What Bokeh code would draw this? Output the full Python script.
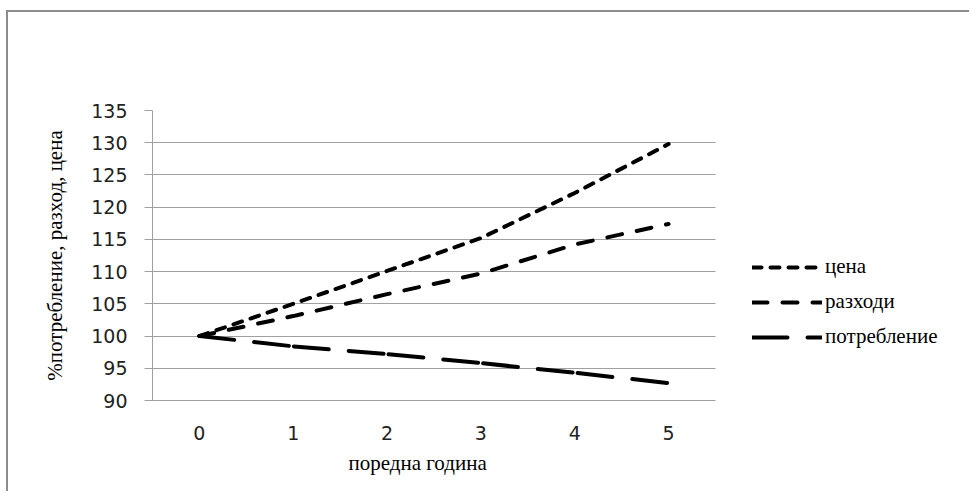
from bokeh.plotting import figure
from bokeh.models import Legend, LegendItem, FixedTicker, Range1d, Title
from bokeh.embed import file_html
from bokeh.resources import INLINE

years = [0, 1, 2, 3, 4, 5]
price = [100, 105.0, 110.1, 115.2, 122.2, 129.8]
expenses = [100, 103.1, 106.5, 109.7, 114.2, 117.4]
consumption = [100, 98.4, 97.2, 95.8, 94.3, 92.7]
series_names = ["цена", "разходи", "потребление"]
y_ticks = [90, 95, 100, 105, 110, 115, 120, 125, 130, 135]
x_title = "поредна година"
y_title = "%потребление, разход, цена"

W, H = 963, 481
left, top, right, bottom = 144, 98, 0, 93
frame_w = W - left - right
cat_px = 563 / 6.0                    # width of one category slot
x_lo, x_hi = -0.5, 5.5                # category area
x_end = x_lo + frame_w / cat_px

p = figure(x_range=Range1d(x_lo, x_end), y_range=(90, 135), width=W, height=H,
           output_backend="svg", toolbar_location=None,
           min_border_left=left, min_border_top=top,
           min_border_right=right, min_border_bottom=bottom,
           styles={"margin-left": "8px", "margin-top": "12px",
                   "box-shadow": "-2px -2px 0px 0px #8c8c8c"})
p.outline_line_color = None
p.background_fill_color = "white"
p.border_fill_color = "white"

grid_col = "#a0a0a0"
p.xgrid.grid_line_color = None
p.ygrid.grid_line_color = grid_col
p.ygrid.grid_line_width = 1
p.ygrid.ticker = FixedTicker(ticks=y_ticks)
p.ygrid.cross_bounds = (x_lo, x_hi)

p.yaxis.ticker = FixedTicker(ticks=y_ticks)
p.xaxis.ticker = FixedTicker(ticks=years)
p.xaxis.bounds = (x_lo, x_hi)
for ax in (p.xaxis, p.yaxis):
    ax.axis_line_color = grid_col
    ax.minor_tick_line_color = None
    ax.major_label_text_font = "DejaVu Sans"
    ax.major_label_text_font_size = "19px"
    ax.major_label_text_color = "#222222"
    ax.axis_label_text_font = "Liberation Serif"
    ax.axis_label_text_font_style = "normal"
    ax.axis_label_text_color = "black"

p.xaxis.major_tick_line_color = None
p.xaxis.major_label_standoff = 19

p.yaxis.major_tick_line_color = grid_col
p.yaxis.major_tick_in = 0
p.yaxis.major_tick_out = 8
p.yaxis.major_label_standoff = 17
p.yaxis.axis_label = y_title
p.yaxis.axis_label_text_font_size = "21px"
p.yaxis.axis_label_standoff = 21

xt = Title(text=x_title, align="left", offset=196, standoff=12,
           text_font="Liberation Serif", text_font_style="normal",
           text_font_size="21px", text_color="black")
p.add_layout(xt, "below")

r1 = p.line(years, price, line_width=4, line_dash="9 9", line_cap="round", color="black")
r2 = p.line(years, expenses, line_width=4, line_dash="15 15", line_cap="round", color="black")
r3 = p.line(years, consumption, line_width=4, line_dash="35 20 35 5", line_cap="round", color="black")

legend = Legend(items=[LegendItem(label=series_names[0], renderers=[r1]),
                       LegendItem(label=series_names[1], renderers=[r2]),
                       LegendItem(label=series_names[2], renderers=[r3])],
                location=(600, 51), orientation="vertical",
                border_line_color=None, background_fill_alpha=0,
                padding=0, margin=0, spacing=10,
                glyph_width=70, glyph_height=24, label_height=24,
                label_standoff=3, label_text_font="Liberation Serif",
                label_text_font_size="21px", label_text_color="black")
p.add_layout(legend)

open("out.html", "w").write(file_html(p, INLINE))
